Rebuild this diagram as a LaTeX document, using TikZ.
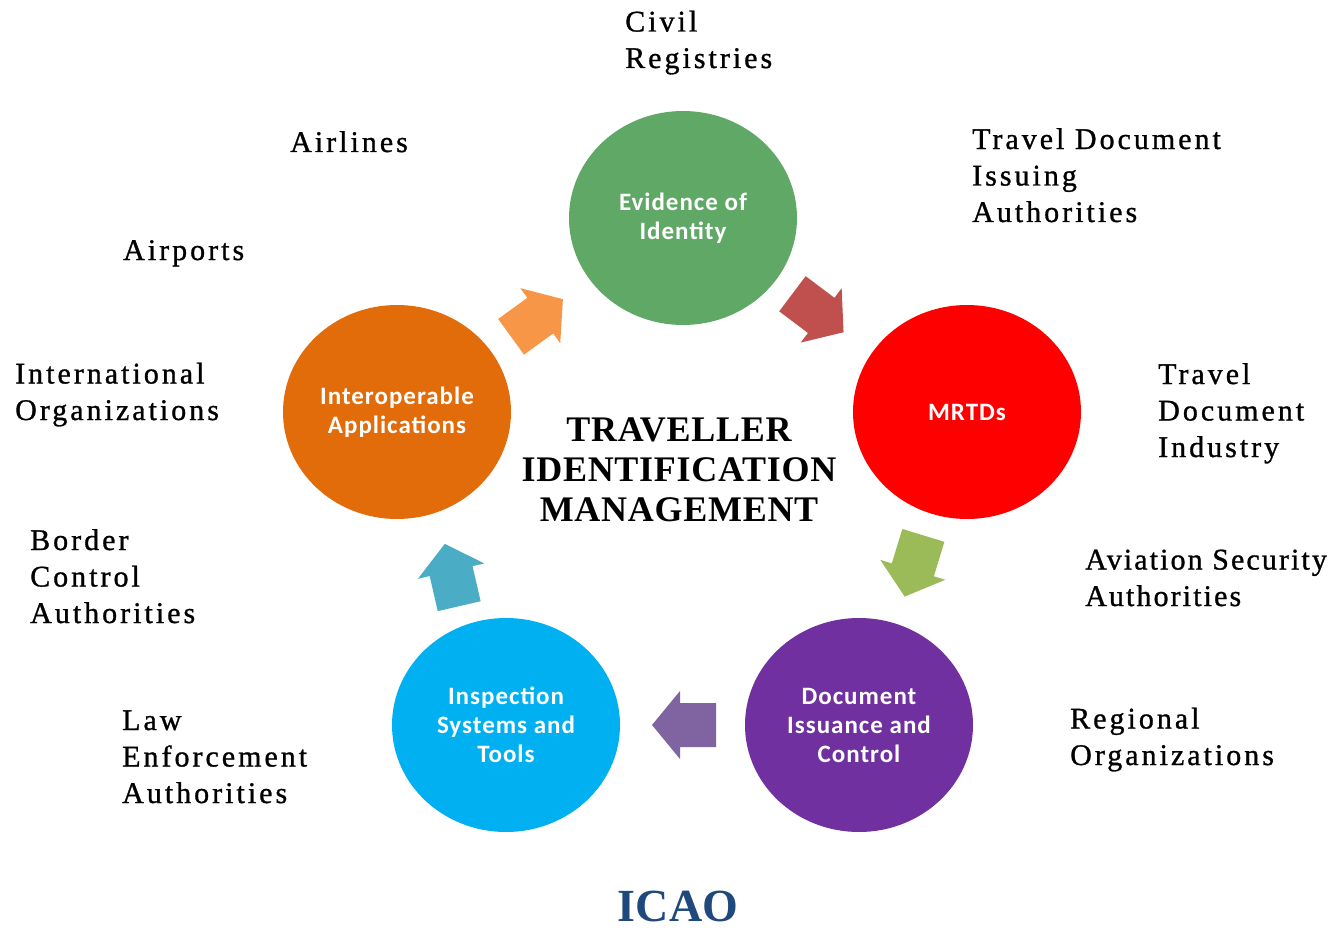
\documentclass[tikz,border=0pt]{standalone}
\usepackage{fontspec}
\usetikzlibrary{shapes.geometric}
\setmainfont{Liberation Serif}
\newfontfamily\lblfont[LetterSpace=10,FakeBold=1]{Liberation Serif}
\newfontfamily\lblfonttight[LetterSpace=7,FakeBold=1]{Liberation Serif}
\newfontfamily\titlefont[LetterSpace=2]{Liberation Serif}
\newfontfamily\circfont[LetterSpace=4]{Carlito}
\definecolor{eoigreen}{HTML}{60A866}
\definecolor{mrtdred}{HTML}{FF0000}
\definecolor{docpurple}{HTML}{7030A0}
\definecolor{inspcyan}{HTML}{00B0F0}
\definecolor{interorange}{HTML}{E36C0A}
\definecolor{arrorange}{HTML}{F79646}
\definecolor{arrred}{HTML}{C0504D}
\definecolor{arrgreen}{HTML}{9BBB59}
\definecolor{arrpurple}{HTML}{8064A2}
\definecolor{arrblue}{HTML}{4BACC6}
\definecolor{icaoblue}{HTML}{1F497D}
\newcommand{\blockarr}[4]{%
  \fill[#1, shift={(#2,#3)}, rotate=#4] (-32,-22) -- (4,-22) -- (4,-34) -- (32,0) -- (4,34) -- (4,22) -- (-32,22) -- cycle;}
\begin{document}
\begin{tikzpicture}[x=1pt,y=-1pt,
  lbl/.style={anchor=base west, align=left, inner sep=0pt, font=\lblfont\fontsize{30}{36.5}\selectfont},
  circ/.style={ellipse, draw=none, minimum width=228pt, minimum height=214pt, inner sep=0pt},
  ctext/.style={text=white, align=center, inner sep=0pt, font=\circfont\bfseries\fontsize{25}{29}\selectfont}]
\path[use as bounding box, fill=white] (0,0) rectangle (1342,931);

% circles
\node[circ, fill=eoigreen] (eoi) at (683,218) {};
\node[circ, fill=mrtdred] (mrtd) at (967,412) {};
\node[circ, fill=docpurple] (doc) at (859,725) {};
\node[circ, fill=inspcyan] (insp) at (506,725) {};
\node[circ, fill=interorange] (inter) at (397,412) {};

\node[ctext] (eoit) at (eoi) {Evidence of\\Identity};
\node[ctext] (mrtdt) at (mrtd) {MRTDs};
\node[ctext] (doct) at (doc) {Document\\Issuance and\\Control};
\node[ctext] (inspt) at (insp) {Inspection\\Systems and\\Tools};
\node[ctext] (intert) at (inter) {Interoperable\\Applications};

% block arrows
\blockarr{arrorange}{537}{318}{36}
\blockarr{arrred}{818}{313}{-37}
\blockarr{arrgreen}{914}{566}{-107}
\blockarr{arrpurple}{684}{725}{180}
\blockarr{arrblue}{452}{575}{103}

% title (anchor = baseline of last line)
\node[align=center, inner sep=0pt, anchor=base, font=\titlefont\bfseries\fontsize{36}{40}\selectfont] (title) at (679,521) {TRAVELLER\\IDENTIFICATION\\MANAGEMENT};

% stakeholder labels (anchor = baseline of last line)
\node[lbl] (civil) at (625,68) {Civil\\Registries};
\node[lbl] (airlines) at (290,152) {Airlines};
\node[lbl] (airports) at (123,260) {Airports};
\node[lbl] (intl) at (15,420) {International\\Organizations};
\node[lbl] (border) at (30,623) {Border\\Control\\Authorities};
\node[lbl] (law) at (122,803) {Law\\Enforcement\\Authorities};
\node[lbl] (tdia) at (972,222) {Travel Document\\Issuing\\Authorities};
\node[lbl] (tdi) at (1158,457) {Travel\\Document\\Industry};
\node[lbl, font=\lblfonttight\fontsize{30}{36.5}\selectfont] (avsec) at (1085,606) {Aviation Security\\Authorities};
\node[lbl] (regional) at (1070,765) {Regional\\Organizations};

\node[anchor=base, inner sep=0pt, text=icaoblue, font=\bfseries\fontsize{46}{50}\selectfont] (icao) at (678,921) {ICAO};
\end{tikzpicture}
\end{document}
